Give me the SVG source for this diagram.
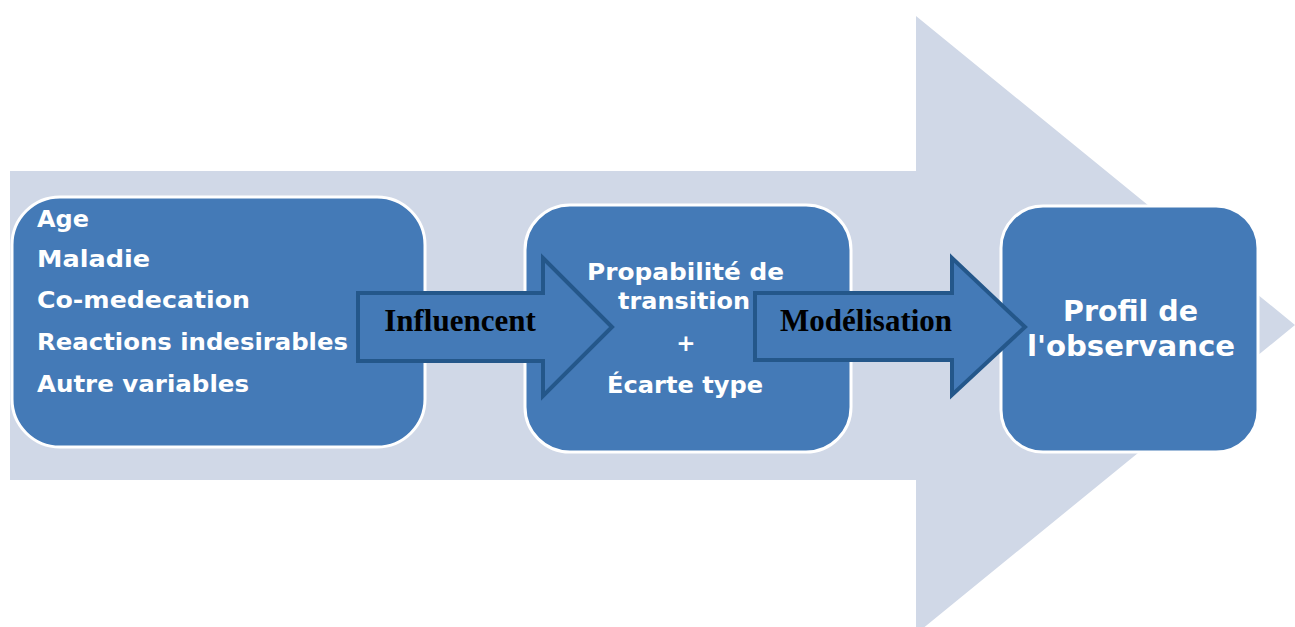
<svg xmlns="http://www.w3.org/2000/svg" width="1295" height="627" viewBox="0 0 1295 627">
<style>
.box{fill:#447ab7;stroke:#ffffff;stroke-width:3}
.conn{fill:#447ab7;stroke:#24578a;stroke-width:4}
.wt{fill:#ffffff;font-family:"DejaVu Sans",sans-serif;font-weight:bold}
.bt{fill:#000000;font-family:"Liberation Serif",serif;font-weight:bold;font-size:31px;text-anchor:middle}
</style>
<rect width="1295" height="627" fill="#ffffff"/>
<g id="background-arrow">
<polygon points="10,171 916,171 916,16 1295,325 916,634 916,480 10,480" fill="#d0d8e7"/>
</g>
<g id="node-factors">
<rect class="box" x="12" y="197" width="413" height="250" rx="48"/>
<g class="wt" font-size="23.5">
<text x="37" y="227" textLength="52" lengthAdjust="spacingAndGlyphs">Age</text>
<text x="37" y="267" textLength="113" lengthAdjust="spacingAndGlyphs">Maladie</text>
<text x="37" y="308" textLength="213" lengthAdjust="spacingAndGlyphs">Co-medecation</text>
<text x="37" y="350" textLength="311" lengthAdjust="spacingAndGlyphs">Reactions indesirables</text>
<text x="37" y="392" textLength="212" lengthAdjust="spacingAndGlyphs">Autre variables</text>
</g>
</g>
<g id="node-transition">
<rect class="box" x="525" y="205" width="326" height="247" rx="45"/>
<g class="wt" font-size="23">
<text x="587" y="280" textLength="197" lengthAdjust="spacingAndGlyphs">Propabilité de</text>
<text x="618" y="309" textLength="132" lengthAdjust="spacingAndGlyphs">transition</text>
<text x="686" y="351" text-anchor="middle">+</text>
<text x="607" y="393" textLength="156" lengthAdjust="spacingAndGlyphs">Écarte type</text>
</g>
</g>
<g id="node-profil">
<rect class="box" x="1001" y="206" width="257" height="246" rx="42"/>
<g class="wt" font-size="28">
<text x="1063" y="321" textLength="135" lengthAdjust="spacingAndGlyphs">Profil de</text>
<text x="1027" y="356" textLength="208" lengthAdjust="spacingAndGlyphs">l'observance</text>
</g>
</g>
<g id="connectors">
<polygon class="conn" points="358,293 543,293 543,258 612,327 543,396 543,361 358,361"/>
<text class="bt" x="460" y="331">Influencent</text>
<polygon class="conn" points="755,293 952,293 952,258 1025,327 952,395 952,360 755,360"/>
<text class="bt" x="866" y="331">Modélisation</text>
</g>
</svg>
